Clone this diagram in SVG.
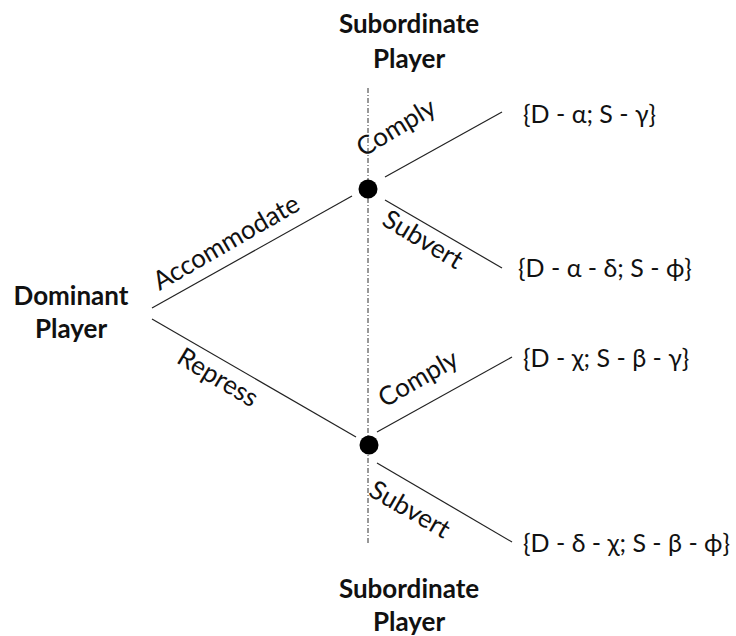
<svg xmlns="http://www.w3.org/2000/svg" width="736" height="636" viewBox="0 0 736 636">
<style>
.t{font-family:Lato,"Open Sans","DejaVu Sans",sans-serif;font-size:26px;fill:#111}
.b{font-weight:bold;text-anchor:middle}
.p{font-size:25px}
.e{stroke:#222;stroke-width:1.2;fill:none}
.lbl{text-anchor:middle}
</style>
<rect width="736" height="636" fill="#fff"/>
<g id="axis">
<line x1="368" y1="88" x2="368" y2="545" stroke="#333" stroke-width="1" stroke-dasharray="5,2,1,2"/>
</g>
<g id="connectors">
<line class="e" x1="152" y1="308" x2="352" y2="196"/>
<line class="e" x1="152" y1="319" x2="356" y2="437"/>
<line class="e" x1="385" y1="177" x2="502" y2="112"/>
<line class="e" x1="385" y1="200" x2="502" y2="268"/>
<line class="e" x1="377" y1="432" x2="512" y2="357"/>
<line class="e" x1="377" y1="463" x2="512" y2="542"/>
</g>
<g id="edge-labels" class="t">
<text class="lbl" transform="translate(227,244) rotate(-30)" y="7">Accommodate</text>
<text class="lbl" transform="translate(217,379) rotate(31)" y="7">Repress</text>
<text class="lbl" transform="translate(397,129) rotate(-31)" y="7">Comply</text>
<text class="lbl" transform="translate(422,241) rotate(31)" y="7">Subvert</text>
<text class="lbl" transform="translate(419,380) rotate(-30)" y="7">Comply</text>
<text class="lbl" transform="translate(409,511) rotate(30)" y="7">Subvert</text>
</g>
<g id="node-dominant" class="t">
<text class="b" x="71" y="305">Dominant</text>
<text class="b" x="71" y="338">Player</text>
</g>
<g id="node-sub-top" class="t">
<text class="b" x="409" y="33">Subordinate</text>
<text class="b" x="409" y="68">Player</text>
</g>
<g id="node-sub-bottom" class="t">
<text class="b" x="409" y="598">Subordinate</text>
<text class="b" x="409" y="631">Player</text>
</g>
<g id="node-decision-1"><circle cx="368" cy="189" r="9.5" fill="#000"/></g>
<g id="node-decision-2"><circle cx="369" cy="445" r="9.5" fill="#000"/></g>
<g id="outcomes" class="t p">
<text x="523" y="123">{D - α; S - γ}</text>
<text x="518" y="277">{D - α - δ; S - ϕ}</text>
<text x="523" y="367">{D - χ; S - β - γ}</text>
<text x="523" y="552">{D - δ - χ; S - β - ϕ}</text>
</g>
</svg>
